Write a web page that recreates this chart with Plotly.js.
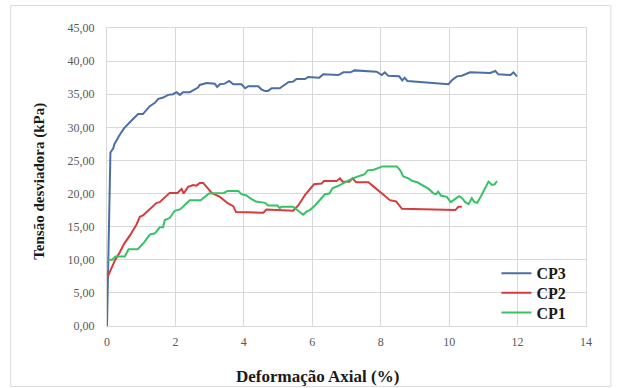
<!DOCTYPE html>
<html>
<head>
<meta charset="utf-8">
<script src="https://cdn.plot.ly/plotly-3.0.1.min.js"></script>
<style>html,body{margin:0;padding:0;background:#fff;}#chart{width:618px;height:388px;}</style>
</head>
<body>
<div id="chart"></div>
<script>
// CP3 (blue)
const cp3X = [0, 0.1, 0.18, 0.22, 0.35, 0.49, 0.71, 0.91, 1.05, 1.25, 1.4, 1.5, 1.64, 1.79, 1.93, 2.03, 2.13, 2.22, 2.42, 2.52, 2.66, 2.71, 2.91, 3.15, 3.22, 3.3, 3.44, 3.57, 3.69, 3.93, 4.04, 4.13, 4.42, 4.52, 4.62, 4.71, 4.81, 5.05, 5.15, 5.3, 5.44, 5.54, 5.79, 5.88, 6.2, 6.32, 6.76, 6.91, 7.12, 7.23, 7.88, 8.03, 8.12, 8.22, 8.54, 8.63, 8.7, 8.78, 9.98, 10.08, 10.23, 10.37, 10.61, 10.91, 11.2, 11.35, 11.44, 11.79, 11.88, 11.98];
const cp3Y = [0, 26.2, 26.8, 27.5, 28.7, 29.8, 31.0, 32.0, 32.0, 33.2, 33.7, 34.3, 34.5, 34.9, 35.0, 35.3, 34.9, 35.3, 35.3, 35.6, 36.0, 36.4, 36.7, 36.6, 36.1, 36.5, 36.6, 37.0, 36.5, 36.5, 35.9, 36.2, 36.2, 35.7, 35.5, 35.5, 35.9, 35.9, 36.3, 36.8, 36.9, 37.3, 37.3, 37.6, 37.5, 38.0, 37.9, 38.3, 38.3, 38.6, 38.4, 37.9, 38.3, 37.8, 37.7, 37.1, 37.5, 37.0, 36.5, 37.1, 37.7, 37.8, 38.3, 38.2, 38.2, 38.5, 38.0, 37.9, 38.3, 37.7];

// CP2 (red)
const cp2X = [0.01, 0.13, 0.23, 0.37, 0.5, 0.66, 0.76, 0.86, 0.96, 1.05, 1.2, 1.35, 1.45, 1.54, 1.69, 1.83, 2.06, 2.18, 2.24, 2.37, 2.52, 2.62, 2.71, 2.81, 2.91, 3.06, 3.3, 3.44, 3.54, 3.69, 3.77, 4.52, 4.57, 4.66, 5.44, 5.59, 5.79, 6.05, 6.27, 6.34, 6.71, 6.81, 6.89, 7.08, 7.18, 7.28, 7.64, 7.76, 7.93, 8.05, 8.2, 8.27, 8.45, 8.62, 10.18, 10.27, 10.37];
const cp2Y = [7.3, 8.8, 9.9, 11.1, 12.4, 13.6, 14.5, 15.3, 16.5, 16.7, 17.4, 18.1, 18.6, 18.7, 19.4, 20.1, 20.1, 20.7, 20.0, 21.0, 21.3, 21.2, 21.6, 21.6, 21.0, 20.1, 19.5, 18.9, 18.5, 18.1, 17.2, 17.1, 17.1, 17.6, 17.4, 18.2, 19.8, 21.4, 21.5, 21.9, 21.9, 22.3, 21.8, 21.8, 22.3, 21.7, 21.7, 21.2, 20.5, 20.0, 19.4, 19.0, 18.8, 17.7, 17.5, 18.0, 18.0];

// CP1 (green)
const cp1X = [0, 0, 0.15, 0.25, 0.52, 0.63, 0.9, 1.08, 1.25, 1.4, 1.54, 1.64, 1.69, 1.83, 1.98, 2.13, 2.22, 2.32, 2.42, 2.74, 2.86, 2.98, 3.42, 3.52, 3.84, 3.93, 4.08, 4.18, 4.35, 4.62, 4.71, 4.98, 5.05, 5.1, 5.44, 5.54, 5.64, 5.73, 5.84, 5.93, 6.08, 6.25, 6.37, 6.5, 6.59, 6.73, 6.91, 7.03, 7.18, 7.4, 7.52, 7.62, 7.8, 8.05, 8.47, 8.57, 8.66, 8.81, 8.93, 9.07, 9.2, 9.4, 9.55, 9.62, 9.68, 9.76, 9.93, 10.05, 10.18, 10.29, 10.38, 10.47, 10.57, 10.66, 10.74, 10.82, 10.93, 11.07, 11.15, 11.25, 11.33, 11.4];
const cp1Y = [8.4, 10.0, 10.0, 10.5, 10.5, 11.6, 11.6, 12.6, 13.8, 14.0, 14.9, 14.9, 16.0, 16.3, 17.4, 17.6, 18.0, 18.5, 19.0, 19.0, 19.5, 20.0, 20.1, 20.4, 20.4, 19.9, 19.7, 19.3, 18.8, 18.6, 18.2, 18.2, 17.8, 18.0, 18.0, 17.6, 17.1, 16.8, 17.3, 17.5, 18.2, 19.2, 19.9, 20.0, 20.8, 21.1, 21.6, 22.0, 22.3, 22.7, 22.9, 23.5, 23.6, 24.1, 24.1, 23.5, 22.6, 22.3, 21.9, 21.7, 21.3, 20.7, 20.0, 19.9, 20.3, 19.7, 19.5, 18.7, 19.2, 19.6, 19.3, 18.7, 18.4, 19.3, 18.7, 18.6, 19.6, 20.9, 21.8, 21.3, 21.4, 21.9];

const xTitle = 'Deformação Axial (%)';
const yTitle = 'Tensão desviadora (kPa)';

const serif = 'Liberation Serif, Times New Roman, serif';

const traces = [
  {x: cp3X, y: cp3Y, name: 'CP3', type: 'scatter', mode: 'lines', line: {color: '#4a6fa6', width: 2}, legend: 'legend'},
  {x: cp2X, y: cp2Y, name: 'CP2', type: 'scatter', mode: 'lines', line: {color: '#d63c3c', width: 2}, legend: 'legend2'},
  {x: cp1X, y: cp1Y, name: 'CP1', type: 'scatter', mode: 'lines', line: {color: '#36c265', width: 2}, legend: 'legend3'}
];

const legendFont = {family: serif, size: 16, color: '#1a1a1a', weight: 'bold'};
function leg(y) {
  return {x: 0.813, y: y, xanchor: 'left', yanchor: 'top', bgcolor: 'rgba(0,0,0,0)', borderwidth: 0,
          font: legendFont, itemwidth: 30};
}

const layout = {
  width: 618, height: 388,
  margin: {l: 107, r: 32, t: 28, b: 62, pad: 0},
  paper_bgcolor: '#ffffff', plot_bgcolor: '#ffffff',
  separators: ',.',
  font: {family: serif, size: 12, color: '#595959'},
  showlegend: true,
  legend: leg(0.2338),
  legend2: leg(0.1683),
  legend3: leg(0.1018),
  xaxis: {
    range: [0, 14], dtick: 2, tick0: 0, tickformat: 'd',
    showgrid: true, gridcolor: '#d9d9d9', gridwidth: 1,
    zeroline: true, zerolinecolor: '#d9d9d9', zerolinewidth: 1,
    showline: true, linecolor: '#d9d9d9', mirror: true,
    ticks: 'outside', ticklen: 5, tickcolor: 'rgba(0,0,0,0)',
    tickfont: {family: serif, size: 12, color: '#595959'},
    fixedrange: true
  },
  yaxis: {
    range: [0, 45], dtick: 5, tick0: 0, tickformat: '.2f',
    showgrid: true, gridcolor: '#d9d9d9', gridwidth: 1,
    zeroline: true, zerolinecolor: '#d9d9d9', zerolinewidth: 1,
    showline: true, linecolor: '#d9d9d9', mirror: true,
    ticks: 'outside', ticklen: 9, tickcolor: 'rgba(0,0,0,0)',
    tickfont: {family: serif, size: 12, color: '#595959'},
    fixedrange: true
  },
  annotations: [
    {text: xTitle, xref: 'paper', yref: 'paper', x: 0.44, y: -0.169, xanchor: 'center', yanchor: 'middle', showarrow: false,
     font: {family: serif, size: 17, color: '#1a1a1a', weight: 'bold'}},
    {text: yTitle, xref: 'paper', yref: 'paper', x: -0.1406, y: 0.486, xanchor: 'center', yanchor: 'middle', showarrow: false, textangle: -90,
     font: {family: serif, size: 15, color: '#1a1a1a', weight: 'bold'}}
  ],
  shapes: [
    {type: 'rect', xref: 'paper', yref: 'paper', x0: -0.201, x1: 1.052, y0: -0.2026, y1: 1.075,
     line: {color: '#d9d9d9', width: 1}, fillcolor: 'rgba(0,0,0,0)', layer: 'below'}
  ]
};

Plotly.newPlot('chart', traces, layout, {staticPlot: true, displayModeBar: false});
</script>
</body>
</html>
